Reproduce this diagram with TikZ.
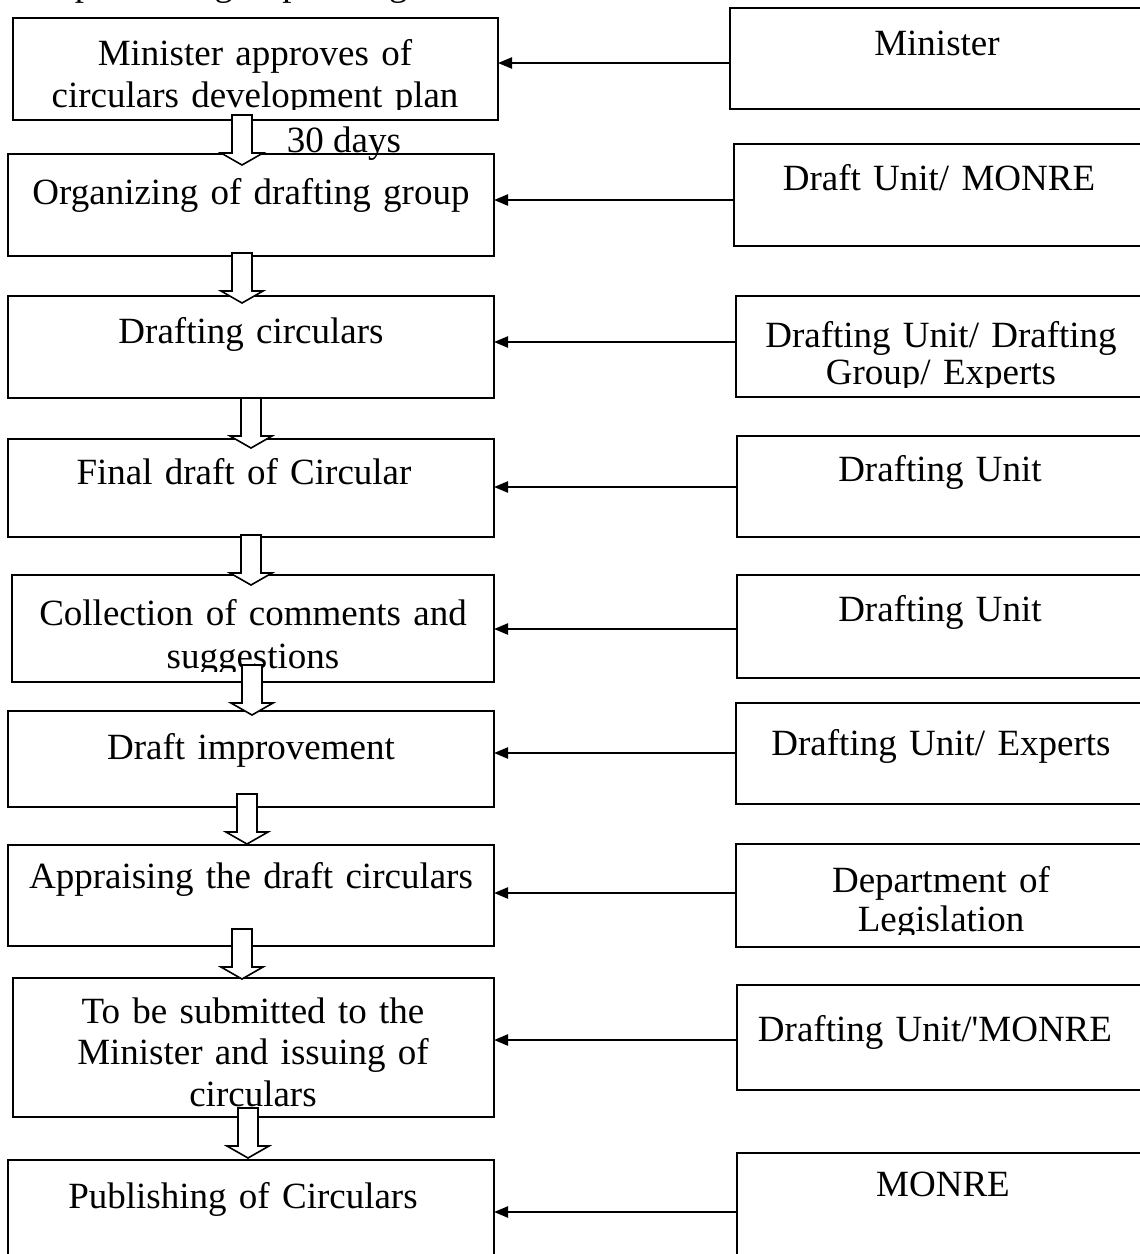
\documentclass[tikz,border=0pt]{standalone}
\usepackage{fontspec}
\setmainfont{Liberation Serif}
\usetikzlibrary{arrows.meta}
\lineskiplimit=-50pt\relax

\tikzset{
  every node/.style={inner sep=0pt, outer sep=0pt},
  box/.style={draw=black, line width=1.8pt, anchor=north west, fill=none},
  txt/.style={anchor=base, text width=470pt, align=center,
    font=\fontsize{37}{42}\selectfont},
  conn/.style={draw=black, line width=2.3pt, -{Triangle[length=14pt,width=11pt]}},
  harrow/.style={draw=black, line width=1.6pt, fill=white, line join=miter}
}

% hollow downward block arrow: centre x, top y
\newcommand\blockarrow[2]{%
  \draw[harrow] (#1-10,#2) -- (#1+10,#2) -- (#1+10,#2+38) -- (#1+21,#2+38)
    -- (#1,#2+50) -- (#1-21,#2+38) -- (#1-10,#2+38) -- cycle;}

\begin{document}
\begin{tikzpicture}[x=1pt, y=-1pt]
\useasboundingbox (0,0) rectangle (1140,1254);
\clip (0,0) rectangle (1140,1254);

% heading line above the chart (only its descenders reach the page)
\node[anchor=base west, font=\fontsize{37}{42}\selectfont] (title) at (8,-5)
  {The processing of promulgation of Circulars.};

% left column: steps
\node[box, minimum width=485, minimum height=102] (b1) at (13,18) {};
\node[box, minimum width=486, minimum height=102] (b2) at (8,154) {};
\node[box, minimum width=486, minimum height=102] (b3) at (8,296) {};
\node[box, minimum width=486, minimum height=98]  (b4) at (8,439) {};
\node[box, minimum width=482, minimum height=107] (b5) at (12,575) {};
\node[box, minimum width=486, minimum height=96]  (b6) at (8,711) {};
\node[box, minimum width=486, minimum height=101] (b7) at (8,845) {};
\node[box, minimum width=481, minimum height=139] (b8) at (13,978) {};
\node[box, minimum width=486, minimum height=110] (b9) at (8,1160) {};

% right column: responsible bodies
\node[box, minimum width=420, minimum height=101] (r1) at (730,8) {};
\node[box, minimum width=416, minimum height=102] (r2) at (734,144) {};
\node[box, minimum width=414, minimum height=101] (r3) at (736,296) {};
\node[box, minimum width=413, minimum height=101] (r4) at (737,436) {};
\node[box, minimum width=413, minimum height=103] (r5) at (737,575) {};
\node[box, minimum width=414, minimum height=101] (r6) at (736,703) {};
\node[box, minimum width=414, minimum height=103] (r7) at (736,844) {};
\node[box, minimum width=413, minimum height=105] (r8) at (737,985) {};
\node[box, minimum width=413, minimum height=117] (r9) at (737,1153) {};

% step texts (text boxes clip what runs past their inner margin)
\begin{scope}
  \clip (b1.north west) rectangle ([yshift=11pt]b1.south east);
  \node[txt] (t1) at (255,65) {Minister approves of\\circulars development plan};
\end{scope}
\node[txt] (t2) at (251,204) {Organizing of drafting group};
\node[txt] (t3) at (251,343) {Drafting circulars};
\node[txt] (t4) at (244,484) {Final draft of Circular};
\begin{scope}
  \clip (b5.north west) rectangle ([yshift=11pt]b5.south east);
  \node[txt, font=\fontsize{37}{43}\selectfont] (t5) at (253,625) {Collection of comments and\\suggestions};
\end{scope}
\node[txt] (t6) at (251,759) {Draft improvement};
\node[txt] (t7) at (251,888) {Appraising the draft circulars};
\node[txt, font=\fontsize{37}{41.5}\selectfont] (t8) at (253,1023) {To be submitted to the\\Minister and issuing of\\circulars};
\node[txt] (t9) at (243,1208) {Publishing of Circulars};

% body texts
\node[txt] (s1) at (937,55) {Minister};
\node[txt] (s2) at (939,190) {Draft Unit/ MONRE};
\begin{scope}
  \clip (r3.north west) rectangle ([yshift=10pt]r3.south east);
  \node[txt, font=\fontsize{37}{37}\selectfont] (s3) at (941,347) {Drafting Unit/ Drafting\\Group/ Experts};
\end{scope}
\node[txt] (s4) at (940,481) {Drafting Unit};
\node[txt] (s5) at (940,621) {Drafting Unit};
\node[txt] (s6) at (941,755) {Drafting Unit/ Experts};
\begin{scope}
  \clip (r7.north west) rectangle ([yshift=13pt]r7.south east);
  \node[txt, font=\fontsize{37}{39}\selectfont] (s7) at (941,892) {Department of\\Legislation};
\end{scope}
\node[txt] (s8) at (935,1041) {Drafting Unit/\textquotesingle MONRE};
\node[txt] (s9) at (943,1196) {MONRE};

\node[anchor=base, font=\fontsize{37}{42}\selectfont] (days) at (344,152) {30 days};

% connectors from bodies to steps
\coordinate (k1) at (0,63);
\coordinate (k2) at (0,200);
\coordinate (k3) at (0,342);
\coordinate (k4) at (0,487);
\coordinate (k5) at (0,629);
\coordinate (k6) at (0,753);
\coordinate (k7) at (0,893);
\coordinate (k8) at (0,1040);
\coordinate (k9) at (0,1212);
\foreach \i in {1,...,9}
  \draw[conn] (r\i.west |- k\i) -- (b\i.east |- k\i);

% block arrows between steps
\blockarrow{242}{115}
\blockarrow{242}{253}
\blockarrow{251}{398}
\blockarrow{251}{535}
\blockarrow{252}{665}
\blockarrow{247}{794}
\blockarrow{242}{929}
\blockarrow{248}{1108}
\end{tikzpicture}
\end{document}
